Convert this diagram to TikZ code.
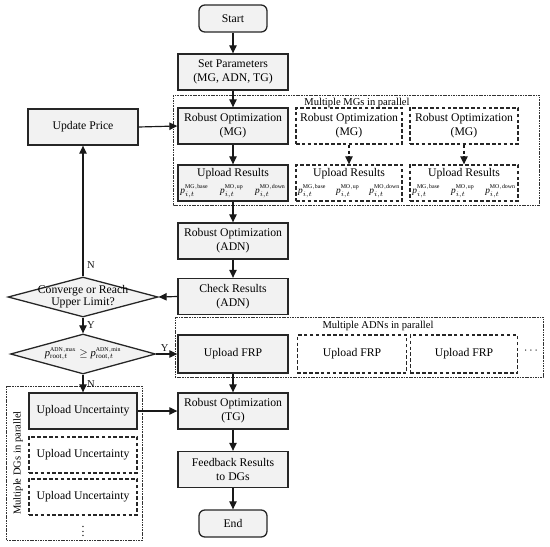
\documentclass[tikz,border=0pt]{standalone}
\usepackage{amsmath,amssymb}
\usepackage{fontspec}
\setmainfont{Liberation Serif}
\usetikzlibrary{positioning,shapes.geometric,arrows.meta}
\newcommand{\pres}[1]{$\textit{p}^{\scriptscriptstyle\mathrm{#1}}_{i,t}$}
\newcommand{\presrow}[1]{\makebox[#1]{\footnotesize\pres{MG,base}\hfill\pres{MO,up}\hfill\pres{MO,down}}}
\tikzset{
proc/.style={draw=black!85,fill=black!5,line width=1.1pt,minimum width=3.3cm,minimum height=1.08cm,inner sep=1pt,align=center,font=\normalsize},
procd/.style={proc,fill=none,dash pattern=on 3pt off 2pt},
term/.style={proc,rounded corners=5pt,minimum width=2.04cm,minimum height=0.81cm},
decide/.style={diamond,draw=black!85,fill=black!5,line width=1.1pt,minimum width=4.5cm,minimum height=1.2cm,inner sep=0pt,aspect=3.7},
groupbox/.style={draw=black!80,line width=0.7pt,dash pattern=on 1.5pt off 0.7pt},
grouptitle/.style={font=\small},
flow/.style={-{Triangle[length=2.4mm,width=2.2mm]},line width=1pt,black!90},
dflow/.style={flow,dash pattern=on 3pt off 2pt},
yn/.style={font=\small,inner sep=1pt}
}
\begin{document}
\begin{tikzpicture}[x=0.03cm,y=-0.03cm]
\useasboundingbox (0,0) rectangle (550,546);
% group frames
\draw[groupbox] (173,95) rectangle (539,205);
\node[grouptitle] (mgtitle) at (357,102.5) {Multiple MGs in parallel};
\draw[groupbox] (175,317) rectangle (543,377);
\node[grouptitle] (adntitle) at (378,326) {Multiple ADNs in parallel};
\draw[groupbox] (6,386) rectangle (142,540);
\node[grouptitle,rotate=90] (dgtitle) at (18,463) {Multiple DGs in parallel};
% main column
\node[term] (start) at (233,18.5) {Start};
\node[proc] (setp) at (233,72) {Set Parameters\\(MG, ADN, TG)};
\node[proc] (romg) at (233,126) {Robust Optimization\\(MG)};
\node[procd,minimum width=3.18cm] (romgb) at (349,126) {Robust Optimization\\(MG)};
\node[procd,minimum width=3.24cm] (romgc) at (464,126) {Robust Optimization\\(MG)};
\node[proc] (upa) at (233,183) {Upload Results\\[2pt]\presrow{3.15cm}};
\node[procd,minimum width=3.18cm] (upb) at (349,183) {Upload Results\\[2pt]\presrow{3.05cm}};
\node[procd,minimum width=3.24cm] (upc) at (464,183) {Upload Results\\[2pt]\presrow{3.1cm}};
\node[proc] (roadn) at (233,241) {Robust Optimization\\(ADN)};
\node[proc] (chk) at (233,296.5) {Check Results\\(ADN)};
\node[proc] (upd) at (83,127) {Update Price};
\node[decide,label={[align=center]center:Converge or Reach\\[-2pt]Upper Limit?}] (conv) at (83,297) {};
\node[decide,minimum width=4.35cm,label={[font=\small]center:$\textit{p}^{\scriptscriptstyle\mathrm{ADN,max}}_{\mathrm{root},t}\geq\textit{p}^{\scriptscriptstyle\mathrm{ADN,min}}_{\mathrm{root},t}$}] (lim) at (83,354) {};
\node[proc,minimum height=1.14cm] (frpa) at (233,354) {Upload FRP};
\node[procd,minimum width=3.27cm,minimum height=1.14cm] (frpb) at (352,354) {Upload FRP};
\node[procd,minimum width=3.21cm,minimum height=1.14cm] (frpc) at (464,354) {Upload FRP};
\node (frpdots) at (532,351) {$\cdots$};
\node[proc,minimum width=3.24cm] (uua) at (83,411) {Upload Uncertainty};
\node[procd,minimum width=3.24cm] (uub) at (83,455) {Upload Uncertainty};
\node[procd,minimum width=3.24cm] (uuc) at (83,497) {Upload Uncertainty};
\node (uudots) at (83,528) {$\vdots$};
\node[proc] (rotg) at (233,411) {Robust Optimization\\(TG)};
\node[proc] (fb) at (233,469.5) {Feedback Results\\to DGs};
\node[term] (stop) at (233,523.5) {End};
% connectors
\draw[flow] (start) -- (setp);
\draw[flow] (setp) -- (romg);
\draw[flow] (romg) -- (upa);
\draw[dflow] (romgb) -- (upb);
\draw[dflow] (romgc) -- (upc);
\draw[flow] (upa) -- (roadn);
\draw[flow] (roadn) -- (chk);
\draw[flow] (chk.west) -- (conv.east);
\draw[flow] (conv.north) -- (upd.south) node[yn,pos=0.09,right=2pt] {N};
\draw[flow] (upd.east) -- (romg.west);
\draw[flow] (conv.south) -- (lim.north) node[yn,midway,right=2pt] {Y};
\draw[flow] (lim.east) -- (frpa.west) node[yn,pos=0.4,above=1pt] {Y};
\draw[flow] (lim.south) -- (uua.north) node[yn,pos=0.55,right=2pt] {N};
\draw[flow] (frpa) -- (rotg);
\draw[flow] (uua.east) -- (rotg.west);
\draw[flow] (rotg) -- (fb);
\draw[flow] (fb) -- (stop);
\end{tikzpicture}
\end{document}
